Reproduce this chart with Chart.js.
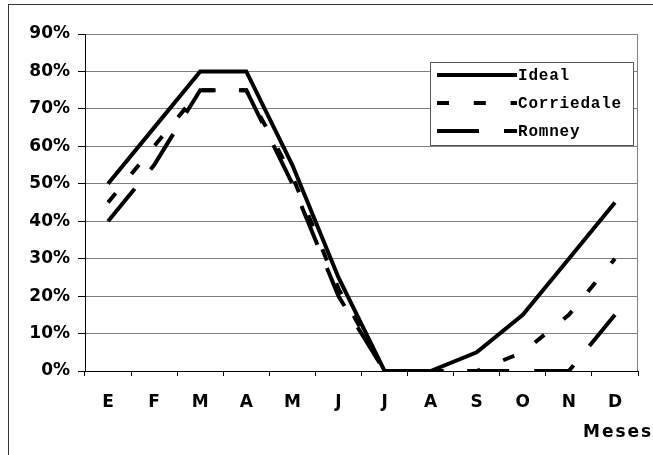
<!DOCTYPE html>
<html>
<head>
<meta charset="utf-8">
<script src="https://cdn.jsdelivr.net/npm/chart.js@4"></script>
<style>
  body { margin: 0; background: #fff; }
  canvas { display: block; }
</style>
</head>
<body>
<canvas id="myChart" width="653" height="455"></canvas>
<script>
const chart = document.getElementById('myChart');

// datos (porcentaje por mes)
const meses = ['E', 'F', 'M', 'A', 'M', 'J', 'J', 'A', 'S', 'O', 'N', 'D'];
const ideal = [50, 65, 80, 80, 55, 25, 0, 0, 5, 15, 30, 45];
const corriedale = [45, 60, 75, 75, 52, 22, 0, 0, 0, 5, 15, 30];
const romney = [40, 55, 75, 75, 50, 20, 0, 0, 0, 0, 0, 15];
const ticksY = [0, 10, 20, 30, 40, 50, 60, 70, 80, 90];

const fuenteEjes = { family: '"DejaVu Sans", Arial, sans-serif', size: 17, weight: 'bold' };

const crearSerie = (label, data, dash) => ({
    label,
    data,
    borderColor: '#000',
    backgroundColor: '#000',
    borderWidth: 4,
    borderDash: dash,
    borderCapStyle: 'butt',
    borderJoinStyle: 'miter',
    pointRadius: 0,
    tension: 0,
    fill: false
});

// marco, borde derecho, titulo "Meses" y leyenda
const decoracion = {
    id: 'decoracion',
    beforeDraw(c) {
        const ctx = c.ctx;
        ctx.save();
        ctx.fillStyle = '#fff';
        ctx.fillRect(0, 0, c.width, c.height);
        ctx.restore();
    },
    afterDraw(c) {
        const { ctx, chartArea } = c;
        ctx.save();
        ctx.strokeStyle = '#333';
        ctx.lineWidth = 1;
        ctx.strokeRect(8.5, 4.5, 900, 700);

        ctx.strokeStyle = '#808080';
        ctx.beginPath();
        ctx.moveTo(chartArea.right - 0.5, chartArea.top);
        ctx.lineTo(chartArea.right - 0.5, chartArea.bottom);
        ctx.stroke();

        ctx.fillStyle = '#000';
        ctx.font = 'bold 17px "DejaVu Sans", Arial, sans-serif';
        ctx.letterSpacing = '2px';
        ctx.textAlign = 'left';
        ctx.textBaseline = 'middle';
        ctx.fillText('Meses', 583, 433);

        // leyenda
        const x0 = chartArea.right - 208;
        const y0 = chartArea.top + 28;
        ctx.fillStyle = '#fff';
        ctx.fillRect(x0, y0, 203, 83);
        ctx.strokeStyle = '#555';
        ctx.lineWidth = 1;
        ctx.strokeRect(x0 + 0.5, y0 + 0.5, 203, 83);

        ctx.font = 'bold 16px "Liberation Mono", "Courier New", monospace';
        ctx.letterSpacing = '0.8px';
        ctx.textAlign = 'left';
        c.data.datasets.forEach((ds, i) => {
            const y = y0 + 13 + i * 28;
            ctx.strokeStyle = '#000';
            ctx.lineWidth = 4;
            ctx.setLineDash(ds.borderDash || []);
            ctx.beginPath();
            ctx.moveTo(x0 + 7, y);
            ctx.lineTo(x0 + 87, y);
            ctx.stroke();
            ctx.setLineDash([]);
            ctx.fillStyle = '#000';
            ctx.fillText(ds.label, x0 + 88, y + 1);
        });
        ctx.restore();
    }
};

const config = {
    type: 'line',
    data: {
        labels: meses,
        datasets: [
            crearSerie('Ideal', ideal, []),
            crearSerie('Corriedale', corriedale, [12, 24.8]),
            crearSerie('Romney', romney, [42, 25])
        ]
    },
    options: {
        responsive: false,
        animation: false,
        layout: { padding: { top: 34, right: 15, left: 0, bottom: 0 } },
        plugins: {
            legend: { display: false },
            tooltip: { enabled: false }
        },
        scales: {
            x: {
                offset: true,
                grid: { offset: true, drawOnChartArea: false, color: '#000', tickLength: 5 },
                border: { color: '#000', width: 1 },
                ticks: { color: '#000', font: fuenteEjes, padding: 16, maxRotation: 0 },
                afterFit: (scale) => { scale.height = 84; }
            },
            y: {
                min: ticksY[0],
                max: ticksY[ticksY.length - 1],
                afterBuildTicks: (scale) => { scale.ticks = ticksY.map((v) => ({ value: v })); },
                grid: { color: '#808080', lineWidth: 1, tickColor: '#000', tickLength: 7 },
                border: { color: '#000', width: 1 },
                ticks: { color: '#000', font: fuenteEjes, padding: 8, callback: (v) => v + '%' },
                afterFit: (scale) => { scale.width = 85; }
            }
        }
    },
    plugins: [decoracion]
};

const myChart = new Chart(chart, config);
</script>
</body>
</html>
